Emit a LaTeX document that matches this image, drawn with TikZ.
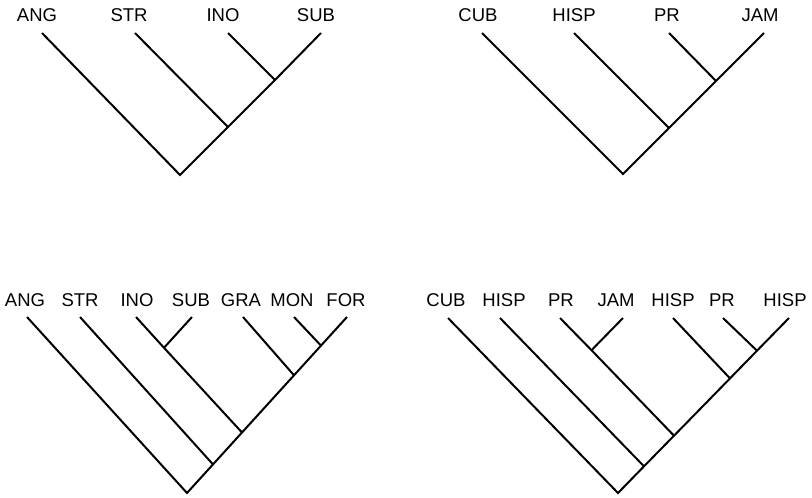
\documentclass[tikz,border=0pt]{standalone}
\usepackage{fontspec}
\setmainfont{Liberation Sans}
\begin{document}
\begin{tikzpicture}[x=1pt,y=-1pt,
  lbl/.style={inner sep=0pt,font=\fontsize{18.5}{20}\selectfont},
  br/.style={line width=2pt,line cap=butt,line join=miter}]
\useasboundingbox (0,0) rectangle (812,498);
% ---------- top left ----------
\node[lbl] (tlA) at (37,15) {ANG};
\node[lbl] (tlB) at (129,15) {STR};
\node[lbl] (tlC) at (223,15) {INO};
\node[lbl] (tlD) at (316,15) {SUB};
\coordinate (tla) at (42,33);
\coordinate (tlb) at (135,33);
\coordinate (tlc) at (228,33);
\coordinate (tld) at (321,33);
\coordinate (tlj1) at (275,80);
\coordinate (tlj2) at (228,127);
\coordinate (tlr) at (180,175);
\draw[br] (tld) -- (tlj1) -- (tlj2) -- (tlr) -- (tla);
\draw[br] (tlc) -- (tlj1);
\draw[br] (tlb) -- (tlj2);
% ---------- top right ----------
\node[lbl] (trA) at (478,15) {CUB};
\node[lbl] (trB) at (574,15) {HISP};
\node[lbl] (trC) at (667,15) {PR};
\node[lbl] (trD) at (760,15) {JAM};
\coordinate (tra) at (482,33);
\coordinate (trb) at (574,33);
\coordinate (trc) at (669,33);
\coordinate (trd) at (764,33);
\coordinate (trj1) at (716,81);
\coordinate (trj2) at (669,128);
\coordinate (trr) at (623,174);
\draw[br] (trd) -- (trj1) -- (trj2) -- (trr) -- (tra);
\draw[br] (trc) -- (trj1);
\draw[br] (trb) -- (trj2);
% ---------- bottom left ----------
\node[lbl] (blA) at (25,300) {ANG};
\node[lbl] (blB) at (80,300) {STR};
\node[lbl] (blC) at (137,300) {INO};
\node[lbl] (blD) at (191,300) {SUB};
\node[lbl] (blE) at (241,300) {GRA};
\node[lbl] (blF) at (292,300) {MON};
\node[lbl] (blG) at (346,300) {FOR};
\coordinate (bla) at (27,317);
\coordinate (blb) at (80,317);
\coordinate (blc) at (136,317);
\coordinate (bld) at (192,317);
\coordinate (ble) at (243,317);
\coordinate (blf) at (294,317);
\coordinate (blg) at (347,317);
\coordinate (bljs) at (164,347.8);
\coordinate (bljm) at (321,345.6);
\coordinate (bljg) at (294,375.3);
\coordinate (bljc) at (242,432.5);
\coordinate (bljt) at (213,464.4);
\coordinate (blr) at (187,493);
\draw[br] (blg) -- (bljm) -- (bljg) -- (bljc) -- (bljt) -- (blr) -- (bla);
\draw[br] (blf) -- (bljm);
\draw[br] (ble) -- (bljg);
\draw[br] (blc) -- (bljs) -- (bljc);
\draw[br] (bld) -- (bljs);
\draw[br] (blb) -- (bljt);
% ---------- bottom right ----------
\node[lbl] (brA) at (446,300) {CUB};
\node[lbl] (brB) at (504,300) {HISP};
\node[lbl] (brC) at (561,300) {PR};
\node[lbl] (brD) at (616,300) {JAM};
\node[lbl] (brE) at (673,300) {HISP};
\node[lbl] (brF) at (722,300) {PR};
\node[lbl] (brG) at (785,300) {HISP};
\coordinate (bra) at (448,318);
\coordinate (brb) at (500,318);
\coordinate (brc) at (560,318);
\coordinate (brd) at (623,318);
\coordinate (bre) at (673,318);
\coordinate (brf) at (723,318);
\coordinate (brg) at (789,318);
\coordinate (brjp) at (591.5,350.2);
\coordinate (brjf) at (757,350.7);
\coordinate (brje) at (730,378.4);
\coordinate (brjc) at (674,435.7);
\coordinate (brjb) at (644,466.3);
\coordinate (brr) at (618,493);
\draw[br] (brg) -- (brjf) -- (brje) -- (brjc) -- (brjb) -- (brr) -- (bra);
\draw[br] (brf) -- (brjf);
\draw[br] (bre) -- (brje);
\draw[br] (brc) -- (brjp) -- (brjc);
\draw[br] (brd) -- (brjp);
\draw[br] (brb) -- (brjb);
\end{tikzpicture}
\end{document}
